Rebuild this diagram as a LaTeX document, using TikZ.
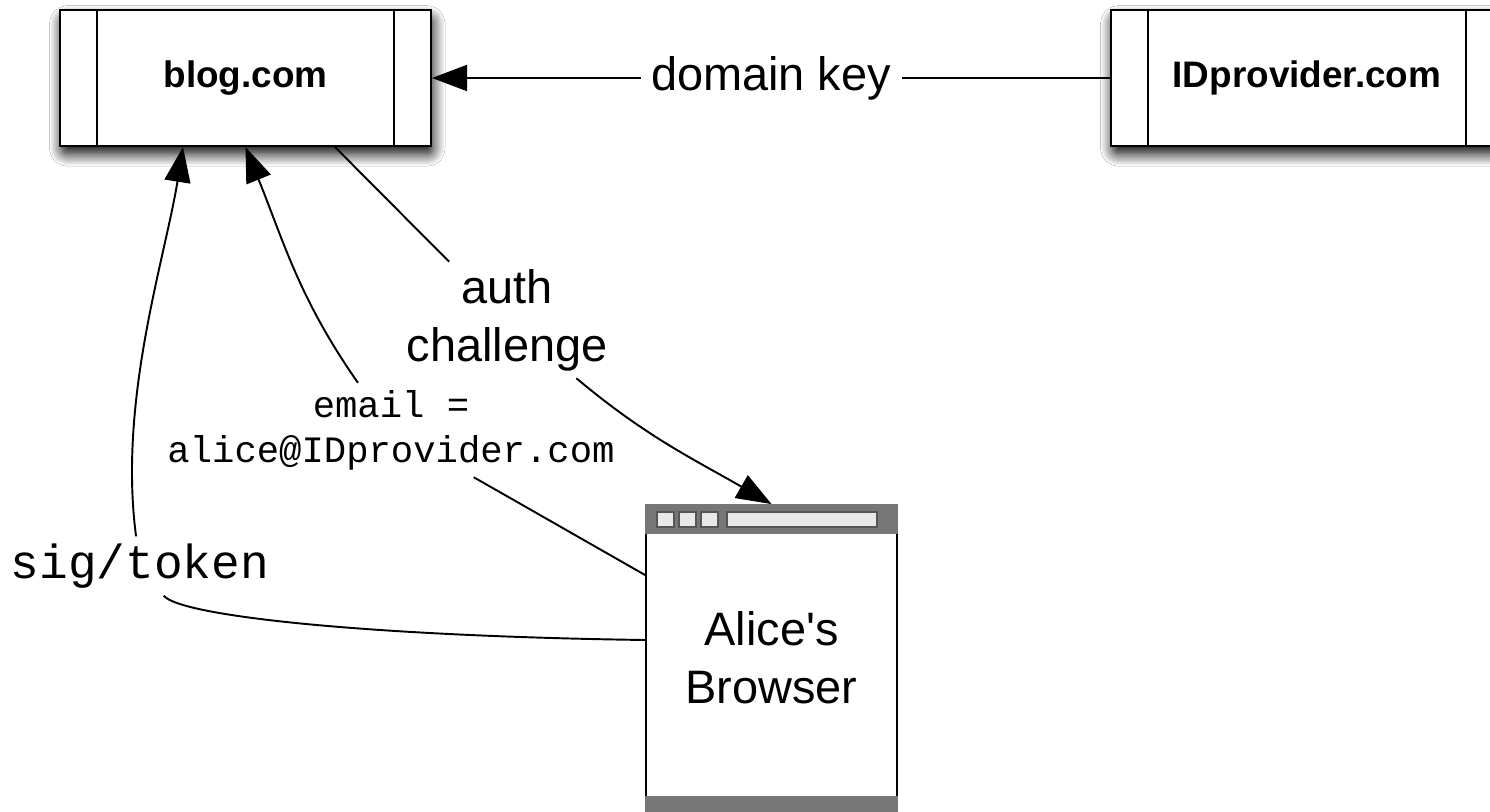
\documentclass[tikz,border=0pt]{standalone}
\usepackage{fontspec}
\setmainfont{Liberation Sans}
\setmonofont{Liberation Mono}
\usepackage{tikz}
\usetikzlibrary{calc}
\usetikzlibrary{arrows.meta}
\usetikzlibrary{shadows.blur}

\definecolor{bargray}{HTML}{777777}
\definecolor{btnfill}{HTML}{E8E8E8}
\definecolor{btnline}{HTML}{555555}

\begin{document}
\begin{tikzpicture} [x=.02cm, y=-.02cm,
  site/.style={draw, line width=1.2pt, fill=white, inner sep=0pt, minimum height=2.72cm, font=\fontsize{21}{25}\selectfont\bfseries, blur shadow={shadow xshift=1pt, shadow yshift=-4.5pt, shadow blur radius=7pt, shadow blur steps=12, shadow opacity=100, shadow blur extra rounding=3pt}},
  lbl/.style={font=\fontsize{26.7}{33}\selectfont, align=center, inner sep=4pt},
  code/.style={font=\fontsize{21.2}{25.6}\selectfont\ttfamily, align=center, inner sep=4pt},
  link/.style={black, line width=1.1pt},
  arr/.style={link, -{Triangle[length=.7cm, width=.52cm]}},
  btn/.style={fill=btnfill, draw=btnline, line width=.8pt}]
\useasboundingbox[fill=white] (0,0) rectangle (1490,811);

\node[site, minimum width=7.42cm] (blog) at (245.5,78) {blog.com};
\node[site, minimum width=7.84cm] (idp) at (1307,78) {IDprovider.com};
\foreach \n in {blog, idp} {
  \draw[line width=1.2pt] ($(\n.north west)+(38,0)$) -- ($(\n.south west)+(38,0)$);
  \draw[line width=1.2pt] ($(\n.north east)+(-38,0)$) -- ($(\n.south east)+(-38,0)$);
}

\node[lbl, draw, line width=1.1pt, fill=white, minimum width=5.02cm, minimum height=6.12cm] (browser) at (771.5,658) {Alice\textquotesingle s\\Browser};
\fill[bargray] (browser.north west) rectangle ($(browser.north east)+(0,30)$);
\fill[bargray] ($(browser.south west)+(0,-16)$) rectangle ($(browser.south east)+(0,4)$);
\foreach \i in {0,1,2} \draw[btn] ($(browser.north west)+(12+22*\i,8)$) rectangle ++(17,15);
\draw[btn] ($(browser.north west)+(82,8)$) rectangle ++(150,15);

\node[lbl] (auth) at (507,320) {auth\\challenge};
\node[code] (email) at (391,430) {email =\\alice@IDprovider.com};
\node[code, font=\fontsize{27.2}{33}\selectfont\ttfamily] (sig) at (140,566) {sig/token};

\coordinate (blogA) at ($(blog.south)+(-62.5,0)$);
\coordinate (blogC) at ($(blog.south)+(89.5,0)$);
\coordinate (browA) at ($(browser.west)+(0,-83)$);
\coordinate (browB) at ($(browser.west)+(0,-18)$);

\draw[arr] (idp) -- node[lbl, fill=white, inner sep=6pt] (dkey) {domain key} (blog);
\draw[link] (blogC) -- (auth);
\draw[arr] (auth) to[out=-40, in=150] (browser.north);
\draw[link] (browA) -- (email);
\draw[arr] (email) to[out=125, in=-68] (blog.south);
\draw[link] (browB) .. controls +(-280,-4) and +(40,50) .. (sig);
\draw[arr] (sig) .. controls +(-22,-166) and +(-18,112) .. (blogA);

\end{tikzpicture}
\end{document}
